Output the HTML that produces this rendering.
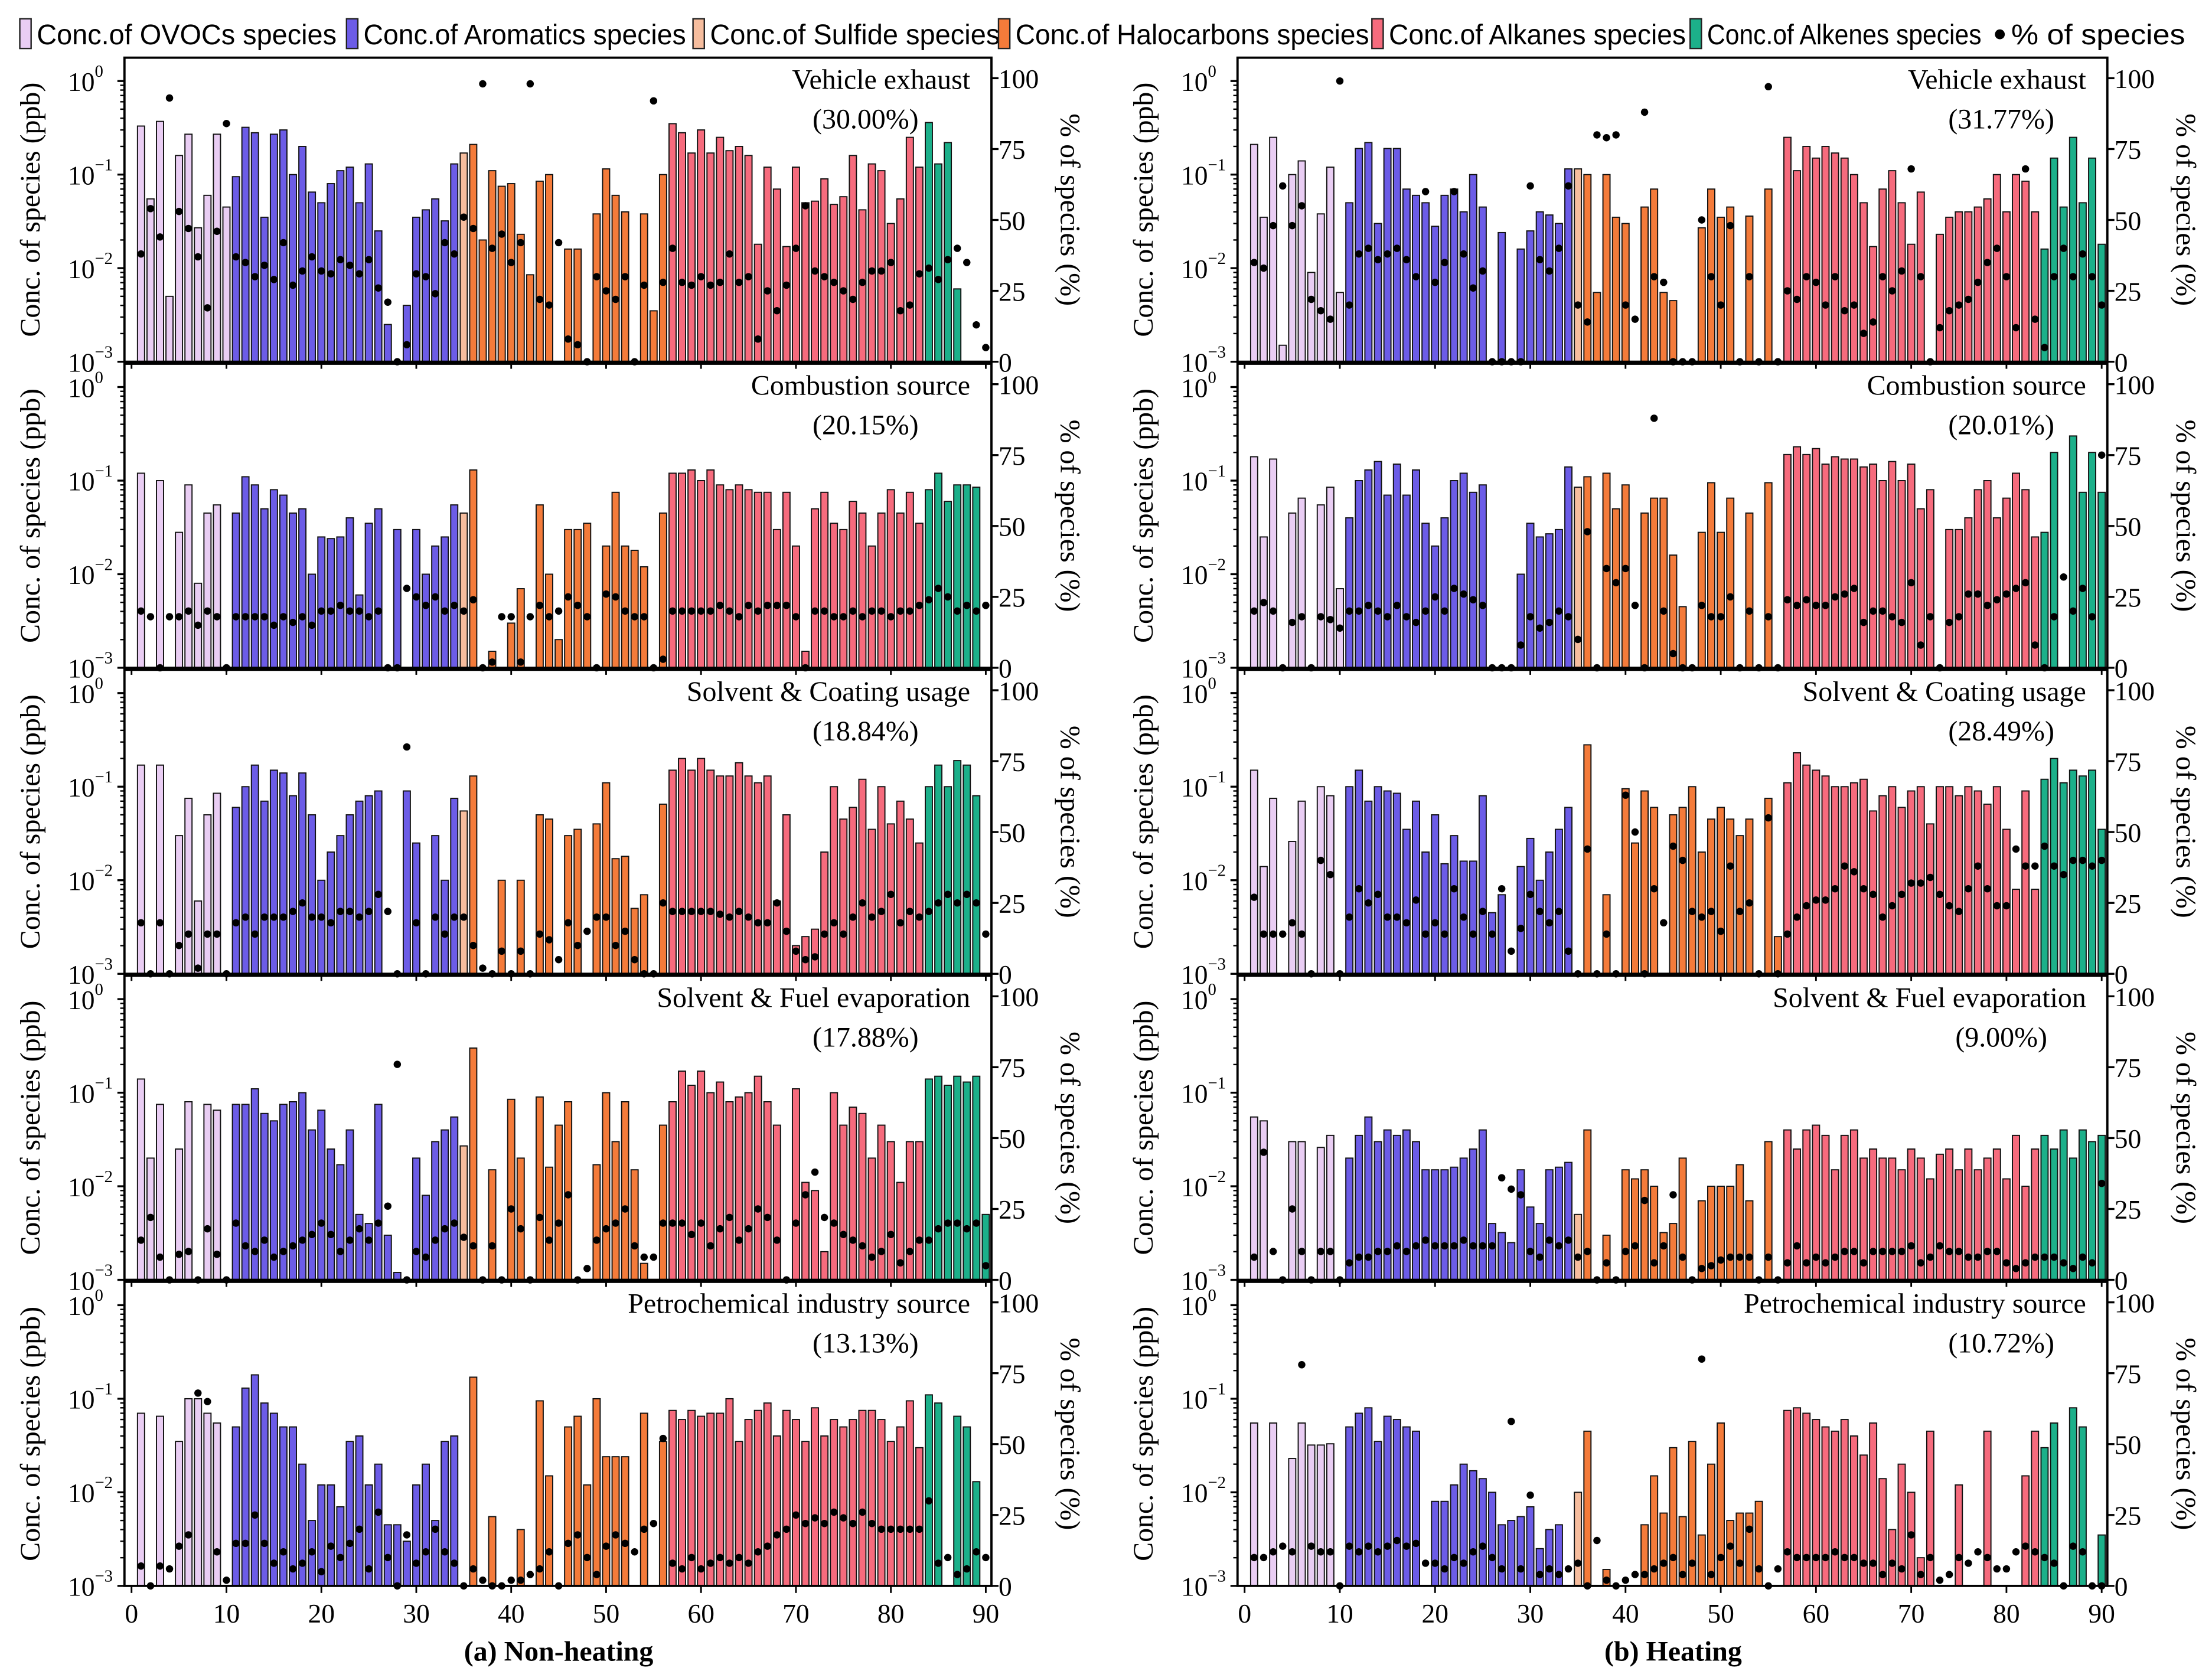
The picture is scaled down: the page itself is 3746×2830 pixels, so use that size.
<!DOCTYPE html>
<html><head><meta charset="utf-8"><style>
html,body{margin:0;padding:0;background:#fff;}
svg{display:block;}
</style></head><body>
<svg id="chart" width="3746" height="2830" viewBox="0 0 1564 1181" xmlns="http://www.w3.org/2000/svg" font-family="'Liberation Serif', serif"></svg>
<script>
const categories = ["OVOCs","Aromatics","Sulfide","Halocarbons","Alkanes","Alkenes"];
const groupStart = [1,11,35,36,57,84];
const colors = ["#e9cdf3","#6c5ce7","#f6bd9e","#f47b3a","#f66b7d","#1cb08a"];
const panelTitles = ["Vehicle exhaust","Combustion source","Solvent & Coating usage","Solvent & Fuel evaporation","Petrochemical industry source"];
const leftShares = ["(30.00%)","(20.15%)","(18.84%)","(17.88%)","(13.13%)"];
const rightShares = ["(31.77%)","(20.01%)","(28.49%)","(9.00%)","(10.72%)"];
const xTicks = [0,10,20,30,40,50,60,70,80,90];
const pctTicks = [0,25,50,75,100];

const concL1 = [0.33,0.055,0.37,0.005,0.16,0.27,0.027,0.06,0.27,0.045,0.095,0.32,0.28,0.035,0.27,0.3,0.1,0.2,0.065,0.05,0.08,0.11,0.12,0.05,0.13,0.025,0.0025,0.001,0.004,0.035,0.042,0.055,0.032,0.13,0.17,0.21,0.02,0.11,0.075,0.08,0.023,0.0085,0.085,0.1,0.001,0.016,0.016,0.001,0.038,0.115,0.06,0.04,0.001,0.038,0.0035,0.1,0.35,0.28,0.17,0.3,0.17,0.25,0.18,0.2,0.16,0.018,0.12,0.07,0.017,0.12,0.05,0.052,0.09,0.048,0.058,0.16,0.042,0.13,0.11,0.03,0.055,0.25,0.12,0.36,0.13,0.22,0.006,0.001,0.001,0.001];
const pctL1 = [38,54,44,93,53,47,37,19,46,84,37,35,30,34,29,42,27,32,37,32,31,36,34,31,36,26,21,0,6,31,30,24,42,38,51,47,98,40,45,35,42,98,22,20,42,8,6,0,30,25,22,30,0,27,92,28,40,28,27,30,27,28,38,28,30,8,25,18,27,40,55,32,30,28,25,22,28,32,32,35,18,20,31,33,29,36,40,35,13,5];
const concL2 = [0.12,0.001,0.1,0.001,0.028,0.09,0.008,0.045,0.055,0.001,0.045,0.11,0.09,0.05,0.08,0.07,0.045,0.05,0.01,0.025,0.024,0.025,0.04,0.006,0.035,0.05,0.001,0.03,0.001,0.03,0.01,0.02,0.025,0.055,0.045,0.13,0.001,0.0015,0.001,0.003,0.007,0.001,0.055,0.01,0.002,0.03,0.03,0.035,0.001,0.02,0.075,0.02,0.018,0.012,0.001,0.045,0.12,0.12,0.13,0.1,0.13,0.09,0.08,0.09,0.08,0.075,0.075,0.03,0.075,0.02,0.0015,0.05,0.075,0.035,0.03,0.06,0.045,0.02,0.045,0.08,0.045,0.075,0.035,0.08,0.12,0.06,0.09,0.09,0.085,0.001];
const pctL2 = [20,18,0,18,18,20,15,20,18,0,18,18,18,18,15,18,16,18,15,20,20,22,20,20,18,20,0,0,28,25,22,25,20,22,20,24,0,2,18,18,2,18,22,18,20,25,22,18,0,26,25,20,18,18,0,3,20,20,20,20,20,22,20,18,22,20,22,22,22,18,0,20,20,18,18,20,18,20,20,18,20,20,22,24,28,25,20,22,20,22];
const concL3 = [0.17,0.001,0.17,0.001,0.03,0.075,0.006,0.05,0.085,0.001,0.06,0.1,0.17,0.07,0.15,0.14,0.08,0.14,0.05,0.01,0.02,0.03,0.05,0.07,0.08,0.09,0.001,0.001,0.09,0.025,0.001,0.03,0.01,0.075,0.055,0.13,0.001,0.001,0.01,0.001,0.01,0.001,0.05,0.045,0.001,0.03,0.035,0.001,0.04,0.11,0.017,0.018,0.005,0.007,0.001,0.065,0.15,0.2,0.15,0.2,0.15,0.13,0.13,0.18,0.13,0.11,0.13,0.006,0.05,0.002,0.0025,0.003,0.02,0.1,0.045,0.06,0.12,0.035,0.1,0.04,0.07,0.045,0.025,0.1,0.17,0.1,0.19,0.17,0.08,0.001];
const pctL3 = [18,0,18,0,10,14,2,14,14,0,18,20,14,20,20,20,22,25,20,20,18,22,22,20,22,28,22,0,80,18,0,20,14,20,20,10,2,0,8,0,8,0,14,12,5,18,10,15,20,20,10,15,5,0,0,25,22,22,22,22,22,21,20,22,20,18,18,25,15,8,5,6,14,18,14,20,25,20,22,28,18,22,20,22,25,28,25,28,25,14];
const concL4 = [0.14,0.02,0.075,0.001,0.025,0.08,0.001,0.075,0.065,0.001,0.075,0.075,0.11,0.06,0.05,0.075,0.08,0.1,0.04,0.065,0.025,0.017,0.04,0.005,0.004,0.075,0.003,0.0012,0.001,0.02,0.008,0.03,0.04,0.055,0.027,0.3,0.001,0.015,0.001,0.085,0.02,0.001,0.09,0.016,0.045,0.08,0.001,0.001,0.017,0.1,0.03,0.08,0.015,0.0015,0.001,0.045,0.08,0.17,0.12,0.17,0.1,0.13,0.08,0.09,0.1,0.15,0.08,0.045,0.001,0.11,0.011,0.009,0.002,0.1,0.045,0.07,0.06,0.02,0.045,0.03,0.011,0.03,0.03,0.14,0.15,0.12,0.15,0.13,0.15,0.005];
const pctL4 = [14,22,8,0,9,10,0,18,9,0,20,12,10,14,8,10,12,14,16,20,16,10,14,18,14,20,26,76,0,10,8,14,18,20,15,12,0,12,0,25,18,0,22,14,20,30,0,4,14,18,20,25,12,8,8,20,20,20,16,20,12,18,22,14,18,25,22,14,0,20,30,38,22,20,16,14,12,8,10,16,6,10,14,14,18,20,20,18,20,5];
const concL5 = [0.07,0.001,0.065,0.001,0.035,0.1,0.1,0.07,0.055,0.001,0.05,0.13,0.18,0.09,0.07,0.05,0.05,0.02,0.005,0.012,0.012,0.007,0.035,0.04,0.012,0.02,0.0045,0.0045,0.003,0.012,0.02,0.005,0.035,0.04,0.001,0.17,0.001,0.0055,0.001,0.001,0.004,0.001,0.095,0.015,0.001,0.05,0.065,0.012,0.1,0.024,0.024,0.024,0.001,0.07,0.001,0.035,0.075,0.06,0.075,0.065,0.07,0.07,0.1,0.035,0.06,0.075,0.09,0.04,0.075,0.06,0.035,0.08,0.04,0.06,0.05,0.06,0.075,0.075,0.06,0.035,0.05,0.095,0.03,0.11,0.09,0.001,0.065,0.05,0.013,0.001];
const pctL5 = [7,0,7,6,14,18,68,65,12,2,15,15,25,15,8,12,6,8,12,5,14,10,15,20,6,26,10,0,18,8,12,20,12,8,0,6,2,0,0,2,2,4,6,12,0,15,18,10,4,14,18,15,12,20,22,52,8,6,10,6,8,10,8,10,8,12,14,18,20,25,22,24,22,26,24,22,26,22,20,20,20,20,20,30,8,10,4,6,12,10];

const concR1 = [0.21,0.035,0.25,0.0015,0.1,0.14,0.009,0.038,0.12,0.0055,0.05,0.19,0.22,0.03,0.19,0.19,0.07,0.06,0.05,0.028,0.06,0.07,0.04,0.1,0.045,0.001,0.024,0.001,0.016,0.025,0.04,0.037,0.03,0.115,0.115,0.1,0.0055,0.1,0.035,0.03,0.001,0.045,0.07,0.0055,0.0045,0.001,0.001,0.027,0.07,0.035,0.045,0.001,0.036,0.001,0.07,0.001,0.25,0.11,0.2,0.15,0.2,0.17,0.15,0.1,0.05,0.017,0.07,0.11,0.05,0.018,0.065,0.001,0.023,0.035,0.04,0.04,0.045,0.055,0.1,0.04,0.1,0.085,0.04,0.016,0.15,0.045,0.25,0.05,0.15,0.018];
const pctR1 = [35,33,48,62,48,55,22,18,15,99,20,38,40,36,38,40,36,30,60,28,35,60,38,26,32,0,0,0,0,62,36,32,40,62,20,14,80,79,80,20,15,88,30,28,0,0,0,50,30,20,48,0,30,0,97,0,25,22,30,28,20,30,18,20,10,14,30,25,32,68,30,0,12,18,20,22,28,35,40,30,12,68,15,5,30,40,30,38,30,20];
const concR2 = [0.18,0.025,0.17,0.001,0.045,0.065,0.001,0.055,0.085,0.007,0.04,0.1,0.13,0.16,0.07,0.15,0.07,0.13,0.035,0.02,0.04,0.1,0.12,0.075,0.09,0.001,0.001,0.001,0.01,0.035,0.025,0.027,0.03,0.14,0.085,0.11,0.001,0.12,0.05,0.09,0.001,0.045,0.065,0.065,0.016,0.0045,0.001,0.028,0.095,0.028,0.065,0.001,0.045,0.001,0.095,0.001,0.19,0.23,0.19,0.22,0.15,0.18,0.17,0.17,0.14,0.15,0.1,0.16,0.1,0.15,0.05,0.08,0.001,0.03,0.03,0.04,0.08,0.1,0.04,0.065,0.12,0.08,0.025,0.028,0.2,0.001,0.3,0.075,0.2,0.075];
const pctR2 = [20,23,20,0,16,18,0,18,17,14,20,20,22,20,18,22,18,16,20,25,20,28,26,24,22,0,0,0,8,18,14,16,20,18,10,48,0,35,30,35,22,0,88,20,5,0,0,22,18,18,25,0,20,0,18,0,24,22,24,22,22,25,26,28,16,20,20,18,16,30,8,18,0,16,18,26,26,22,24,26,28,30,8,0,18,32,20,28,18,75];
const concR3 = [0.15,0.014,0.075,0.001,0.026,0.07,0.001,0.1,0.08,0.001,0.1,0.15,0.07,0.1,0.09,0.085,0.035,0.07,0.02,0.05,0.015,0.03,0.016,0.016,0.08,0.0045,0.007,0.001,0.014,0.028,0.01,0.02,0.035,0.06,0.001,0.28,0.001,0.007,0.001,0.095,0.025,0.09,0.06,0.001,0.05,0.06,0.1,0.02,0.045,0.06,0.045,0.03,0.045,0.001,0.075,0.0025,0.11,0.23,0.17,0.15,0.13,0.1,0.1,0.11,0.12,0.055,0.08,0.1,0.06,0.09,0.1,0.04,0.1,0.1,0.08,0.1,0.09,0.065,0.1,0.035,0.008,0.09,0.008,0.12,0.2,0.11,0.15,0.13,0.15,0.035];
const pctR3 = [27,14,14,14,18,14,0,40,35,0,20,30,25,28,20,20,18,26,14,18,14,30,20,14,22,14,30,8,16,28,22,18,22,8,0,44,0,14,0,63,50,0,30,18,45,40,22,20,22,15,38,22,25,0,55,0,14,20,24,26,26,30,38,36,30,28,20,24,28,32,32,34,28,24,22,30,38,30,24,24,44,38,38,45,38,35,40,40,38,40];
const concR4 = [0.055,0.05,0.001,0.001,0.03,0.03,0.001,0.026,0.035,0.001,0.02,0.035,0.055,0.03,0.04,0.035,0.04,0.03,0.015,0.015,0.015,0.016,0.02,0.025,0.04,0.004,0.0032,0.0025,0.015,0.006,0.004,0.015,0.016,0.018,0.005,0.04,0.001,0.003,0.001,0.015,0.012,0.015,0.01,0.0032,0.004,0.02,0.001,0.007,0.01,0.01,0.01,0.017,0.007,0.001,0.03,0.001,0.04,0.025,0.04,0.045,0.035,0.015,0.035,0.04,0.02,0.025,0.02,0.02,0.015,0.025,0.02,0.012,0.022,0.025,0.015,0.025,0.015,0.02,0.025,0.012,0.035,0.01,0.025,0.035,0.025,0.04,0.02,0.04,0.03,0.035];
const pctR4 = [8,45,10,0,25,10,0,10,10,0,6,8,8,10,10,12,10,12,14,12,12,12,14,12,12,12,36,32,30,10,8,14,12,14,8,10,0,6,0,10,12,28,6,12,30,8,0,4,5,7,8,8,8,0,8,0,6,12,6,8,6,8,10,10,6,10,10,10,10,12,6,8,12,10,10,8,8,10,10,6,4,6,8,8,8,6,4,8,6,34];
const concR5 = [0.055,0.001,0.055,0.001,0.023,0.055,0.032,0.032,0.033,0.001,0.05,0.07,0.08,0.035,0.065,0.06,0.05,0.045,0.001,0.008,0.008,0.012,0.02,0.017,0.014,0.01,0.0045,0.005,0.0055,0.007,0.0025,0.004,0.0045,0.001,0.01,0.045,0.001,0.0015,0.001,0.001,0.001,0.0045,0.015,0.006,0.03,0.0055,0.035,0.0035,0.02,0.055,0.005,0.006,0.006,0.008,0.001,0.001,0.075,0.08,0.07,0.06,0.05,0.045,0.06,0.04,0.025,0.055,0.014,0.004,0.02,0.01,0.002,0.045,0.001,0.001,0.012,0.001,0.001,0.045,0.001,0.001,0.001,0.015,0.045,0.03,0.055,0.001,0.08,0.05,0.001,0.0035];
const pctR5 = [10,10,12,14,12,78,14,12,12,0,14,12,14,12,14,16,14,15,8,8,6,10,8,12,14,10,6,58,6,32,4,6,4,6,8,0,16,2,0,2,4,4,6,8,10,4,8,80,4,10,14,8,20,6,0,6,12,10,10,10,10,12,10,10,8,8,4,8,6,18,4,10,2,4,10,8,12,10,6,6,12,14,12,10,8,0,14,12,0,0];

const concLeft = [concL1,concL2,concL3,concL4,concL5];
const pctLeft = [pctL1,pctL2,pctL3,pctL4,pctL5];
const concRight = [concR1,concR2,concR3,concR4,concR5];
const pctRight = [pctR1,pctR2,pctR3,pctR4,pctR5];

const NS = "http://www.w3.org/2000/svg";
const svg = document.getElementById("chart");
function mk(tag, attrs, parent, text){
  const e = document.createElementNS(NS, tag);
  for (const k in attrs) e.setAttribute(k, attrs[k]);
  if (text !== undefined) e.textContent = text;
  (parent||svg).appendChild(e);
  return e;
}
function groupOf(i){ let g=0; for(let k=0;k<groupStart.length;k++) if(i>=groupStart[k]) g=k; return g; }

// Legend
const legendItems = [
  {x:14,w:212,label:"Conc.of OVOCs species",c:0},{x:245,w:228,label:"Conc.of Aromatics species",c:1},
  {x:490,w:205,label:"Conc.of Sulfide species",c:2},{x:706,w:250,label:"Conc.of Halocarbons species",c:3},
  {x:970,w:210,label:"Conc.of Alkanes species",c:4},{x:1195,w:194,label:"Conc.of Alkenes species",c:5}];
const lg = mk("g",{});


legendItems.forEach(it=>{
  const r = mk("rect",{x:it.x,y:13,width:8,height:21,fill:colors[it.c],stroke:"#222","stroke-width":1},lg);
  
  
  const t = mk("text",{x:it.x+12,y:31,"font-size":20,textLength:it.w,lengthAdjust:"spacingAndGlyphs","font-family":"'Liberation Sans',sans-serif"},lg,it.label);
  
  
});
const ld = mk("circle",{cx:1414,cy:24,r:3.5,fill:"#000"},lg);


const lt = mk("text",{x:1422,y:31,"font-size":20,textLength:123,lengthAdjust:"spacingAndGlyphs","font-family":"'Liberation Sans',sans-serif"},lg,"% of species");



function drawPanel(side, p, conc, pct){
  const L = side===0 ? {fl:88,fr:701,x0:93,x90:697,lab:"left",sh:89} : {fl:875,fr:1490,x0:880,x90:1486,lab:"right",sh:75};
  const bottom = 255.5 + 216.4*p;
  const top = bottom - 215;
  const yTop = bottom - 198.5;
  const xs = v => L.x0 + (L.x90-L.x0)*v/90;
  const yc = v => bottom - (Math.log10(Math.max(v,0.001))+3)/3*(bottom-yTop);
  const yp = v => bottom - v/100*(bottom-yTop+2);
  const g = mk("g",{});
  
  
  const bw = 5.0;
  for(let i=1;i<=90;i++){
    const v = conc[i-1];
    if (v<=0.001) continue;
    const y = yc(v);
    const b = mk("rect",{x:xs(i)-bw/2,y:y,width:bw,height:bottom-y,fill:colors[groupOf(i)],stroke:"#111","stroke-width":0.8},g);
    
    
  }
  for(let i=1;i<=90;i++){
    const c = mk("circle",{cx:xs(i),cy:yp(pct[i-1]),r:2.6,fill:"#000"},g);
    
    
  }
  const fr = mk("rect",{x:L.fl,y:top,width:L.fr-L.fl,height:bottom-top,fill:"none",stroke:"#000","stroke-width":1.6},g);
  
  
  for(let d=-3; d<=0; d++){
    const y = yc(Math.pow(10,d));
    mk("line",{x1:L.fl,x2:L.fl-5,y1:y,y2:y,stroke:"#000","stroke-width":1.4},g);
    const t = mk("text",{x:L.fl-40,y:y+7,"font-size":19},g,"10");
    
    
    mk("text",{x:L.fl-21,y:y-3,"font-size":12},g, d===0?"0":"\u2212"+(-d));
    if(d<0){ for(let m=2;m<=9;m++){ const yy=yc(m*Math.pow(10,d)); mk("line",{x1:L.fl,x2:L.fl-3,y1:yy,y2:yy,stroke:"#000","stroke-width":1},g);} }
  }
  pctTicks.forEach(v=>{
    const y = yp(v);
    mk("line",{x1:L.fr,x2:L.fr+5,y1:y,y2:y,stroke:"#000","stroke-width":1.4},g);
    const t = mk("text",{x:L.fr+5,y:y+7,"font-size":19},g,String(v));
    
    
  });
  xTicks.forEach(v=>{
    mk("line",{x1:xs(v),x2:xs(v),y1:bottom,y2:bottom+5,stroke:"#000","stroke-width":1.2},g);
    if(p===4){
      const t = mk("text",{x:xs(v),y:bottom+26,"font-size":19,"text-anchor":"middle"},g,String(v));
      
      
    }
  });
  const tt = mk("text",{x:L.fr-15,y:top+22,"font-size":20,"text-anchor":"end"},g,panelTitles[p]);
  
  
  const st = mk("text",{x:L.fr-L.sh,y:top+50,"font-size":20,"text-anchor":"middle"},g,(side===0?leftShares:rightShares)[p]);
  
  
  const cy = (top+bottom)/2;
  const a1 = mk("text",{x:0,y:0,"font-size":20,"text-anchor":"middle",transform:`translate(${L.fl-60},${cy}) rotate(-90)`},g,"Conc. of species (ppb)");
  
  
  const a2 = mk("text",{x:0,y:0,"font-size":20,"text-anchor":"middle",transform:`translate(${L.fr+49},${cy}) rotate(90)`},g,"% of species (%)");
  
  
}
for(let p=0;p<5;p++){ drawPanel(0,p,concLeft[p],pctLeft[p]); drawPanel(1,p,concRight[p],pctRight[p]); }
const c1 = mk("text",{x:395,y:1174,"font-size":20,"font-weight":"bold","text-anchor":"middle"},svg,"(a) Non-heating");


const c2 = mk("text",{x:1183,y:1174,"font-size":20,"font-weight":"bold","text-anchor":"middle"},svg,"(b) Heating");


</script>
</body></html>
